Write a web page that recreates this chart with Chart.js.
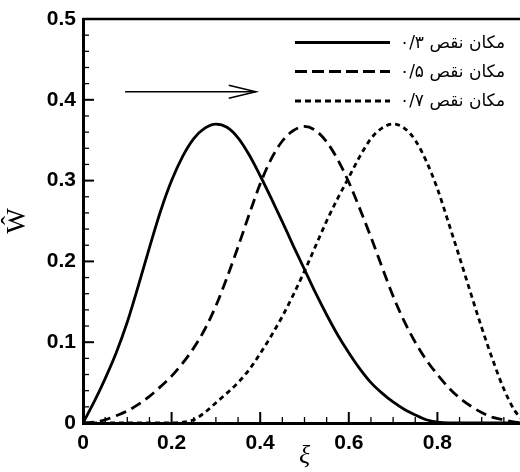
<!DOCTYPE html>
<html>
<head>
<meta charset="utf-8">
<script src="https://cdn.jsdelivr.net/npm/chart.js@4/dist/chart.umd.min.js"></script>
<style>
html,body{margin:0;padding:0;overflow:hidden;background:#fff;}
canvas{display:block;}
</style>
</head>
<body>
<canvas id="c" width="526" height="472" style="width:526px;height:472px"></canvas>
<script>
const xi = [0,0.025,0.05,0.075,0.1,0.125,0.15,0.175,0.2,0.225,0.25,0.275,0.3,0.325,0.35,0.375,0.4,0.425,0.45,0.475,0.5,
            0.525,0.55,0.575,0.6,0.625,0.65,0.675,0.7,0.725,0.75,0.775,0.8,0.825,0.85,0.875,0.9,0.925,0.95,0.975,1.0];
const W03 = [0,0.026,0.055,0.087,0.125,0.17,0.217,0.262,0.300,0.330,0.352,0.365,0.370,0.366,0.353,0.332,0.306,0.278,0.249,0.219,0.190,
             0.161,0.134,0.109,0.087,0.067,0.050,0.037,0.026,0.017,0.010,0.004,0.001,0,0,0,0,0,0,0,0];
const W05 = [0,0.001,0.004,0.009,0.015,0.023,0.033,0.045,0.058,0.074,0.093,0.116,0.145,0.18,0.218,0.258,0.296,0.327,0.349,0.362,0.367,
             0.362,0.348,0.326,0.298,0.265,0.23,0.193,0.157,0.126,0.10,0.078,0.06,0.044,0.031,0.021,0.013,0.007,0.004,0.001,0];
const W07 = [0,0,0,0,0,0,0,0,0,0.001,0.004,0.013,0.025,0.037,0.05,0.066,0.086,0.108,0.132,0.159,0.188,
             0.219,0.25,0.278,0.304,0.33,0.352,0.365,0.37,0.365,0.35,0.324,0.29,0.248,0.205,0.161,0.118,0.078,0.042,0.015,0];
const seriesLabels = ["مکان نقص ۰/۳", "مکان نقص ۰/۵", "مکان نقص ۰/۷"];
const xTicks = [0,0.2,0.4,0.6,0.8];
const yTicks = [0,0.1,0.2,0.3,0.4,0.5];
const arrowX = [0.095, 0.39];
const arrowY = 0.41;

const dashes = [[], [11,6], [5,4]];
const legendDashes = [[], [12,5], [6,4]];
const series = [W03, W05, W07];

const datasets = series.map((s, i) => ({
  label: seriesLabels[i],
  data: xi.map((x, j) => ({x: x, y: s[j]})),
  borderColor: '#000',
  borderWidth: 2.8,
  borderDash: dashes[i],
  pointRadius: 0,
  fill: false,
  cubicInterpolationMode: 'monotone'
}));

const decor = {
  id: 'decor',
  beforeDatasetsDraw(chart) {
    const ctx = chart.ctx, xs = chart.scales.x, ys = chart.scales.y, a = chart.chartArea;
    ctx.save();
    ctx.strokeStyle = '#000';
    ctx.lineWidth = 2.5;
    ctx.beginPath(); ctx.moveTo(a.left, a.top); ctx.lineTo(a.right + 5, a.top); ctx.stroke();
    for (let k = 0; k <= 20; k++) {
      const v = k * 0.05;
      const major = k % 4 === 0;
      const px = xs.getPixelForValue(v);
      ctx.lineWidth = major ? 2 : 1.3;
      ctx.beginPath(); ctx.moveTo(px, a.bottom); ctx.lineTo(px, a.bottom - (major ? 11 : 6)); ctx.stroke();
    }
    for (let k = 0; k <= 25; k++) {
      const v = k * 0.02;
      const major = k % 5 === 0;
      const py = ys.getPixelForValue(v);
      ctx.lineWidth = major ? 2 : 1.3;
      ctx.beginPath(); ctx.moveTo(a.left, py); ctx.lineTo(a.left + (major ? 11 : 6), py); ctx.stroke();
    }
    ctx.restore();
  },
  afterDatasetsDraw(chart) {
    const ctx = chart.ctx, xs = chart.scales.x, ys = chart.scales.y;
    ctx.save();
    const x1 = xs.getPixelForValue(arrowX[0]), x2 = xs.getPixelForValue(arrowX[1]), y = ys.getPixelForValue(arrowY);
    ctx.strokeStyle = '#000';
    ctx.lineWidth = 1.6;
    ctx.beginPath(); ctx.moveTo(x1, y); ctx.lineTo(x2, y); ctx.stroke();
    ctx.beginPath(); ctx.moveTo(x2 - 27, y - 6.5); ctx.lineTo(x2, y); ctx.lineTo(x2 - 27, y + 6.5); ctx.stroke();
    const rows = [42.5, 71.5, 101];
    chart.data.datasets.forEach((ds, i) => {
      ctx.lineWidth = 2.8;
      ctx.setLineDash(legendDashes[i]);
      ctx.beginPath(); ctx.moveTo(295, rows[i]); ctx.lineTo(390, rows[i]); ctx.stroke();
      ctx.setLineDash([]);
      ctx.fillStyle = '#000';
      ctx.font = '17px "DejaVu Sans", "Noto Sans", sans-serif';
      ctx.textAlign = 'left';
      ctx.textBaseline = 'middle';
      ctx.fillText(ds.label, 400, rows[i] + 1);
    });
    ctx.restore();
  }
};

new Chart(document.getElementById('c'), {
  type: 'line',
  data: { datasets: datasets },
  options: {
    responsive: false,
    animation: false,
    devicePixelRatio: 1,
    layout: { padding: { top: 19, right: 0, left: 0, bottom: 0 } },
    plugins: { legend: { display: false }, tooltip: { enabled: false } },
    scales: {
      x: {
        type: 'linear', min: 0, max: 1,
        afterBuildTicks: s => { s.ticks = xTicks.map(v => ({value: v})); },
        afterFit: s => { s.height = 49; s.paddingLeft = 0; s.paddingRight = 0; },
        grid: { display: false, drawTicks: false },
        border: { display: true, color: '#000', width: 3 },
        ticks: {
          color: '#000', padding: 8, maxRotation: 0, autoSkip: false,
          font: { family: '"Liberation Sans", Arial, sans-serif', size: 21, weight: 'bold' },
          callback: v => v === 0 ? '0' : v.toFixed(1)
        },
        title: { display: true, text: 'ξ', color: '#000', padding: { top: 0, bottom: 0 },
          font: { family: '"Liberation Serif", serif', size: 26, style: 'italic' } }
      },
      y: {
        type: 'linear', min: 0, max: 0.5,
        afterBuildTicks: s => { s.ticks = yTicks.map(v => ({value: v})); },
        afterFit: s => { s.width = 83; s.paddingTop = 0; s.paddingBottom = 0; },
        grid: { display: false, drawTicks: false },
        border: { display: true, color: '#000', width: 3 },
        ticks: {
          color: '#000', padding: 7, autoSkip: false,
          font: { family: '"Liberation Sans", Arial, sans-serif', size: 21, weight: 'bold' },
          callback: v => v === 0 ? '0' : v.toFixed(1)
        },
        title: { display: true, text: 'Ŵ', color: '#000', padding: { top: 2, bottom: 0 },
          font: { family: '"Liberation Serif", serif', size: 27 } }
      }
    }
  },
  plugins: [decor]
});
</script>
</body>
</html>
